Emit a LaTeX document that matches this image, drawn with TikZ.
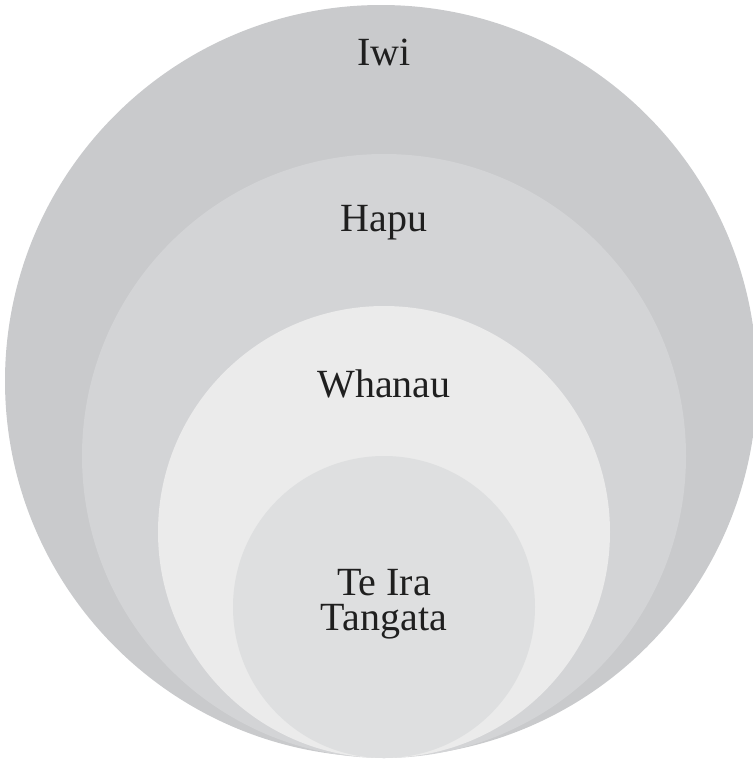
\documentclass[tikz,border=0pt]{standalone}
\usepackage{fontspec}
\setmainfont{Liberation Serif}
\definecolor{iwigray}{HTML}{C9CACC}
\definecolor{hapugray}{HTML}{D3D4D6}
\definecolor{whanaugray}{HTML}{EBEBEB}
\definecolor{teiragray}{HTML}{DEDFE0}
\begin{document}
\begin{tikzpicture}[
    x=0.5pt, y=-0.5pt,
    ring/.style={circle, draw=none, inner sep=0pt},
    tag/.style={anchor=base, inner sep=0pt, align=center, text=black!88,
        font=\fontsize{20}{17.5}\selectfont}
]
    \useasboundingbox (0,0) rectangle (753,760);
    \node[ring, fill=iwigray, minimum size=376pt] (iwi) at (381,381) {};
    \node[ring, fill=hapugray, minimum size=302pt] (hapu) at (384,456) {};
    \node[ring, fill=whanaugray, minimum size=226pt] (whanau) at (384,532) {};
    \node[ring, fill=teiragray, minimum size=151pt] (teira) at (384,607) {};

    \node[tag] (iwilabel) at (384,65) {Iwi};
    \node[tag] (hapulabel) at (384,231) {Hapu};
    \node[tag] (whanaulabel) at (384,397) {Whanau};
    \node[tag] (teiralabel) at (384,630) {Te Ira\\Tangata};
\end{tikzpicture}
\end{document}
